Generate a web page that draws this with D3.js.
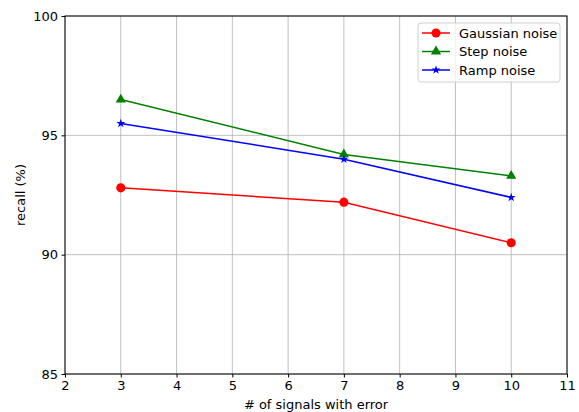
<!DOCTYPE html>
<html>
<head>
<meta charset="utf-8">
<script src="https://cdn.jsdelivr.net/npm/d3@7"></script>
<style>
body { margin: 0; background: #fff; }
text { font-family: "DejaVu Sans", sans-serif; }
</style>
</head>
<body>
<div class="chart"></div>
<script>
const xValues = [3, 7, 10];
const gaussian = [92.8, 92.2, 90.5];
const step = [96.5, 94.2, 93.3];
const ramp = [95.5, 94.0, 92.4];
const xTicks = [2, 3, 4, 5, 6, 7, 8, 9, 10, 11];
const yTicks = [85, 90, 95, 100];

const seriesList = [
    {name: "Gaussian noise", values: gaussian, color: "#ff0000", marker: "circle"},
    {name: "Step noise", values: step, color: "#008000", marker: "triangle"},
    {name: "Ramp noise", values: ramp, color: "#0000ff", marker: "star"}
];

const margin = ({top: 16, right: 12, bottom: 38, left: 65});
const width = 579 - margin.left - margin.right,
    height = 412 - margin.top - margin.bottom;

const svg = d3.select(".chart").append("svg")
    .attr("width", 579)
    .attr("height", 412)
    .append("g")
    .attr("transform", "translate(" + margin.left + "," + margin.top + ")");

const xScale = d3.scaleLinear().domain([2, 11]).range([0, width]);
const yScale = d3.scaleLinear().domain([85, 100]).range([height, 0]);

// grid
svg.selectAll(".vgrid").data(xTicks).enter().append("line")
    .attr("x1", d => xScale(d)).attr("x2", d => xScale(d))
    .attr("y1", 0).attr("y2", height)
    .attr("stroke", "#b0b0b0").attr("stroke-width", 0.8);
svg.selectAll(".hgrid").data(yTicks).enter().append("line")
    .attr("x1", 0).attr("x2", width)
    .attr("y1", d => yScale(d)).attr("y2", d => yScale(d))
    .attr("stroke", "#b0b0b0").attr("stroke-width", 0.8);

const xAxis = d3.axisBottom(xScale).tickValues(xTicks).tickSizeOuter(0).tickSize(3.5).tickPadding(3.5);
const yAxis = d3.axisLeft(yScale).tickValues(yTicks).tickSizeOuter(0).tickSize(3.5).tickPadding(3.5);

svg.append("g")
    .attr("transform", `translate(0, ${height})`)
    .call(xAxis)
    .call(g => g.selectAll("text").attr("font-size", 13).attr("fill", "#000").style("font-family", "DejaVu Sans"))
    .call(g => g.select(".domain").remove());
svg.append("g")
    .call(yAxis)
    .call(g => g.selectAll("text").attr("font-size", 13).attr("fill", "#000").style("font-family", "DejaVu Sans"))
    .call(g => g.select(".domain").remove());

// frame
svg.append("rect")
    .attr("width", width).attr("height", height)
    .attr("fill", "none").attr("stroke", "#000").attr("stroke-width", 1);

const line = d3.line().x((d, i) => xScale(xValues[i])).y(d => yScale(d));

const symbolOf = {
    circle: d3.symbol().type(d3.symbolCircle).size(65),
    triangle: d3.symbol().type(d3.symbolTriangle).size(45),
    star: d3.symbol().type(d3.symbolStar).size(25)
};

seriesList.forEach(s => {
    svg.append("path")
        .datum(s.values)
        .attr("d", line)
        .attr("fill", "none")
        .attr("stroke", s.color)
        .attr("stroke-width", 1.5);
    svg.selectAll(null).data(s.values).enter().append("path")
        .attr("d", symbolOf[s.marker])
        .attr("transform", (d, i) => `translate(${xScale(xValues[i])},${yScale(d)})`)
        .attr("fill", s.color);
});

// axis labels
svg.append("text")
    .attr("x", width / 2).attr("y", height + 35)
    .attr("text-anchor", "middle").attr("font-size", 13)
    .text("# of signals with error");
svg.append("text")
    .attr("transform", `translate(${-40}, ${height / 2}) rotate(-90)`)
    .attr("text-anchor", "middle").attr("font-size", 13)
    .text("recall (%)");

// legend
const lx = 418 - margin.left, ly = 23 - margin.top;
svg.append("rect")
    .attr("x", lx).attr("y", ly).attr("width", 142).attr("height", 59)
    .attr("rx", 3).attr("fill", "#fff").attr("fill-opacity", 0.8)
    .attr("stroke", "#d0d0d0");
const legend = svg.selectAll(".legend").data(seriesList).enter().append("g")
    .attr("transform", (d, i) => `translate(${lx}, ${ly + 10 + i * 18.5})`);
legend.append("line")
    .attr("x1", 4).attr("x2", 32).attr("y1", 0).attr("y2", 0)
    .attr("stroke", d => d.color).attr("stroke-width", 1.5);
legend.append("path")
    .attr("d", d => symbolOf[d.marker]())
    .attr("transform", "translate(18,0)")
    .attr("fill", d => d.color);
legend.append("text")
    .attr("x", 41).attr("y", 0).attr("dy", "0.35em")
    .attr("font-size", 13)
    .text(d => d.name);
</script>
</body>
</html>
